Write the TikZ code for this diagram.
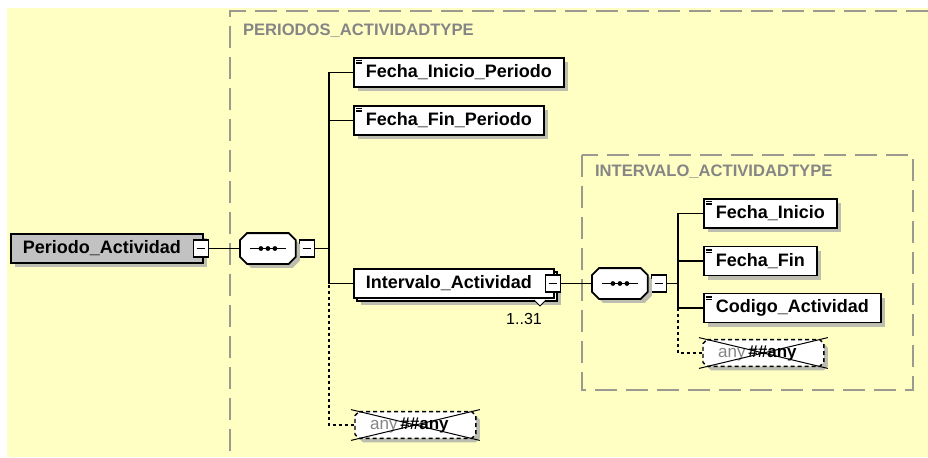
\documentclass[tikz,border=0pt]{standalone}
\usepackage{fontspec}
\setmainfont{Liberation Sans}
\usetikzlibrary{positioning,shadows}

\definecolor{xsdback}{HTML}{FFFFC4}
\definecolor{xsdframe}{HTML}{9A9A90}
\definecolor{xsdlabel}{HTML}{858585}
\definecolor{xsdparent}{HTML}{C2C2C2}
\definecolor{xsdshade}{HTML}{BDBDB0}

% octagon outline round a node, #2 = size of the cut corners
\newcommand{\cutbox}[2]{([xshift=#2]#1.north west) -- ([xshift=-#2]#1.north east)
  -- ([yshift=-#2]#1.north east) -- ([yshift=#2]#1.south east)
  -- ([xshift=-#2]#1.south east) -- ([xshift=#2]#1.south west)
  -- ([yshift=#2]#1.south west) -- ([yshift=-#2]#1.north west) -- cycle}

\tikzset{
  boxshadow/.style={drop shadow={shadow xshift=2pt, shadow yshift=-2pt, fill=xsdshade, opacity=1}},
  elem/.style={rectangle, draw, fill=white, line width=0.9pt, minimum height=14.5pt,
    inner xsep=6pt, inner ysep=0pt, font=\fontsize{9}{10}\selectfont\bfseries, boxshadow},
  simple/.style={elem, path picture={
      \foreach \k in {1.3,2.1,2.9}
        \draw[line width=0.35pt] ([xshift=1pt,yshift=-\k pt]path picture bounding box.north west) -- ++(3pt,0);}},
  multielem/.style={elem, drop shadow={shadow xshift=3.5pt, shadow yshift=-3.5pt, fill=xsdshade, opacity=1},
    copy shadow={shadow xshift=1.6pt, shadow yshift=-1.6pt}},
  parent/.style={elem, fill=xsdparent},
  minusbox/.style={rectangle, draw, fill=white, line width=0.6pt, minimum width=7.5pt, minimum height=8.5pt,
    inner sep=0pt, path picture={\draw[line width=0.6pt] ([xshift=1.6pt]path picture bounding box.west)
      -- ([xshift=-1.6pt]path picture bounding box.east);}},
  seqbox/.style={rectangle, minimum width=27.5pt, minimum height=15pt, inner sep=0pt},
  wildbox/.style={rectangle, minimum width=60pt, minimum height=13pt, inner sep=0pt},
  wildtext/.style={font=\fontsize{8.5}{10}\selectfont, inner sep=0pt},
  typebox/.style={draw=xsdframe, line width=1pt, dash pattern=on 11pt off 4.5pt},
  typelabel/.style={anchor=west, text=xsdlabel, font=\fontsize{8.3}{10}\selectfont\bfseries},
  link/.style={line width=0.9pt},
  optlink/.style={line width=0.9pt, dash pattern=on 1.5pt off 1.5pt}
}

\begin{document}
\begin{tikzpicture}[x=0.5pt,y=-0.5pt]
  \useasboundingbox (0,0) rectangle (928,457);
  \fill[white] (0,0) rectangle (928,457);
  \fill[xsdback] (7,8) rectangle (928,457);

  % type frames
  \draw[typebox] (928,11) -- (230,11) -- (230,457);
  \node[typelabel] (ptype) at (236,30.5) {PERIODOS\_ACTIVIDADTYPE};
  \draw[typebox] (582,155) rectangle (913,390);
  \node[typelabel] (itype) at (588,172) {INTERVALO\_ACTIVIDADTYPE};

  % root element and first sequence
  \node[parent, anchor=west] (pa) at (10,248.5) {Periodo\_Actividad\kern5pt};
  \node[minusbox] (pam) at ([xshift=-1.5pt]pa.east) {};
  \node[seqbox, anchor=west] (seq1) at (240,248.5) {};
  \node[minusbox, right=1.5pt of seq1] (seq1m) {};
  \coordinate (t1) at (329,248.5);

  \node[simple, anchor=west] (fip) at (353,72.5) {Fecha\_Inicio\_Periodo};
  \node[simple, anchor=west] (ffp) at (353,120.5) {Fecha\_Fin\_Periodo};
  \node[multielem, anchor=west] (intv) at (353,283.5) {Intervalo\_Actividad\kern5pt};
  \node[minusbox] (intvm) at ([xshift=-1pt]intv.east) {};
  \draw[line width=0.5pt, fill=white] (534,300) -- (540,306) -- (546,300);
  \node[font=\fontsize{8}{10}\selectfont] (mult) at (524,319) {1..31};
  \node[wildbox, anchor=west] (any1) at (355,425) {};

  % second sequence
  \node[seqbox, anchor=west] (seq2) at (592,283.5) {};
  \node[minusbox, right=1.5pt of seq2] (seq2m) {};
  \coordinate (t2) at (678,283.5);

  \node[simple, anchor=west] (fi) at (703,213.5) {Fecha\_Inicio};
  \node[simple, anchor=west] (ff) at (703,261) {Fecha\_Fin};
  \node[simple, anchor=west] (ca) at (703,308) {Codigo\_Actividad};
  \node[wildbox, anchor=west] (any2) at (703,353) {};

  % sequence symbols
  \foreach \s in {seq1,seq2} {
    \fill[xsdshade, transform canvas={shift={(2pt,-2pt)}}] \cutbox{\s}{3.5pt};
    \filldraw[fill=white, line width=0.9pt] \cutbox{\s}{3.5pt};
    \draw[line width=0.7pt] ([xshift=-9pt]\s.center) -- ([xshift=9pt]\s.center);
    \foreach \d in {-3.5,0,3.5}
      \fill ([xshift=\d pt]\s.center) circle (1.2pt);
  }

  % crossed wildcards
  \foreach \w in {any1,any2} {
    \fill[xsdshade, transform canvas={shift={(2pt,-2pt)}}] \cutbox{\w}{2pt};
    \filldraw[fill=white, line width=0.7pt, dash pattern=on 2pt off 1.5pt] \cutbox{\w}{2pt};
    \node[wildtext] (\w-txt) at ([xshift=-3pt]\w.center) {{\color{xsdlabel}any}\,\textbf{\#\#any}};
    \draw[line width=0.5pt] ([xshift=-2pt,yshift=1pt]\w.north west) -- ([xshift=2pt,yshift=-1pt]\w.south east);
    \draw[line width=0.5pt] ([xshift=-2pt,yshift=-1pt]\w.south west) -- ([xshift=2pt,yshift=1pt]\w.north east);
  }

  % connectors
  \draw[link] (pam.east) -- (seq1.west);
  \draw[optlink] (t1) |- (any1.west);
  \draw[link] (seq1m.east) -- (t1);
  \foreach \n in {fip,ffp,intv}
    \draw[link] (t1) |- (\n.west);
  \draw[link] (intvm.east) -- (seq2.west);
  \draw[optlink] (t2) |- (any2.west);
  \draw[link] (seq2m.east) -- (t2);
  \foreach \n in {fi,ff,ca}
    \draw[link] (t2) |- (\n.west);
\end{tikzpicture}
\end{document}
